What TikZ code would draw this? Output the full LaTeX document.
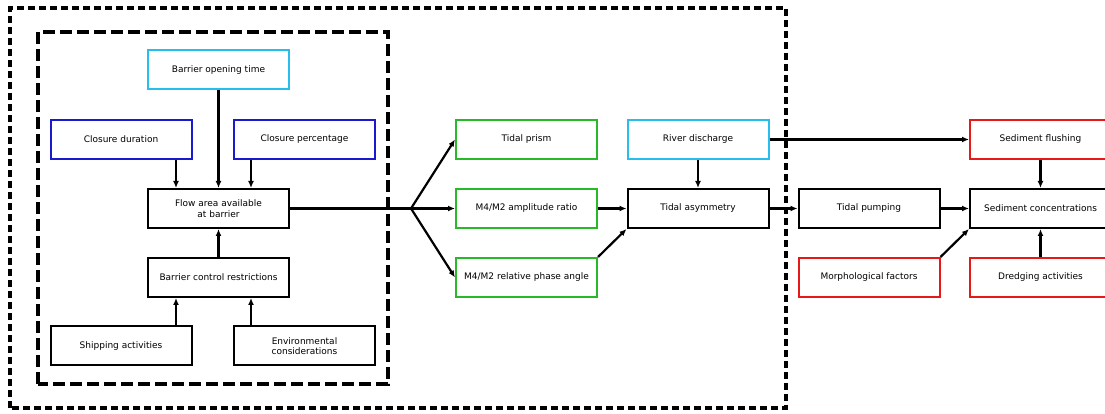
\documentclass[tikz,border=0pt]{standalone}
\usepackage{fontspec}
\setmainfont{DejaVu Sans}
\usetikzlibrary{positioning,arrows.meta}

\definecolor{boxcyan}{RGB}{40,190,235}
\definecolor{boxblue}{RGB}{25,25,205}
\definecolor{boxgreen}{RGB}{40,185,40}
\definecolor{boxred}{RGB}{230,25,25}

\begin{document}
\begin{tikzpicture}[x=1pt, y=1pt,
	box/.style={draw, line width=2pt, minimum width=141pt, minimum height=39pt, align=center, inner sep=2pt, font=\fontsize{9}{10.5}\selectfont},
	link/.style={line width=2.2pt, -{Latex[length=7pt, width=6pt]}}]
	\useasboundingbox (0, 0) rectangle (1105, 414);

	\draw[line width=3.2pt, dash pattern=on 7pt off 4pt] (10, 6) rectangle (786, 406);
	\draw[line width=3.4pt, dash pattern=on 12pt off 5pt] (38, 30) rectangle (388, 382);

	\node[box, draw=boxcyan] (opening) at (218.5, 344) {Barrier opening time};
	\node[box, draw=boxblue] (duration) at (121, 274.5) {Closure duration};
	\node[box, draw=boxblue] (percentage) at (304.5, 274.5) {Closure percentage};
	\node[box] (flow) at (218.5, 205.5) {Flow area available\\at barrier};
	\node[box] (control) at (218.5, 136.5) {Barrier control restrictions};
	\node[box] (shipping) at (121, 68) {Shipping activities};
	\node[box] (environment) at (304.5, 68) {Environmental\\considerations};

	\node[box, draw=boxgreen] (prism) at (526.5, 274.5) {Tidal prism};
	\node[box, draw=boxgreen] (amplitude) at (526.5, 205.5) {M4/M2 amplitude ratio};
	\node[box, draw=boxgreen] (phase) at (526.5, 136.5) {M4/M2 relative phase angle};
	\node[box, draw=boxcyan] (discharge) at (698, 274.5) {River discharge};
	\node[box] (asymmetry) at (698, 205.5) {Tidal asymmetry};
	\node[box] (pumping) at (869, 205.5) {Tidal pumping};
	\node[box, draw=boxred] (morphology) at (869, 136.5) {Morphological factors};
	\node[box, draw=boxred] (flushing) at (1040.5, 274.5) {Sediment flushing};
	\node[box] (concentration) at (1040.5, 205.5) {Sediment concentrations};
	\node[box, draw=boxred] (dredging) at (1040.5, 136.5) {Dredging activities};

	\coordinate (split) at (411, 205.5);

	\draw[link] (opening) -- (flow);
	\draw[link] (duration.south -| 176, 0) -- (flow.north -| 176, 0);
	\draw[link] (percentage.south -| 251, 0) -- (flow.north -| 251, 0);
	\draw[link] (control) -- (flow);
	\draw[link] (shipping.north -| 176, 0) -- (control.south -| 176, 0);
	\draw[link] (environment.north -| 251, 0) -- (control.south -| 251, 0);

	\draw[line width=2.2pt] (flow) -- (split);
	\draw[link] (split) -- (prism.west);
	\draw[link] (split) -- (amplitude.west);
	\draw[link] (split) -- (phase.west);

	\draw[link] (amplitude) -- (asymmetry);
	\draw[link] (phase.north east) -- (asymmetry.south west);
	\draw[link] (discharge) -- (asymmetry);
	\draw[link] (asymmetry) -- (pumping);
	\draw[link] (discharge) -- (flushing);
	\draw[link] (pumping) -- (concentration);
	\draw[link] (morphology.north east) -- (concentration.south west);
	\draw[link] (flushing) -- (concentration);
	\draw[link] (dredging) -- (concentration);

\end{tikzpicture}
\end{document}
